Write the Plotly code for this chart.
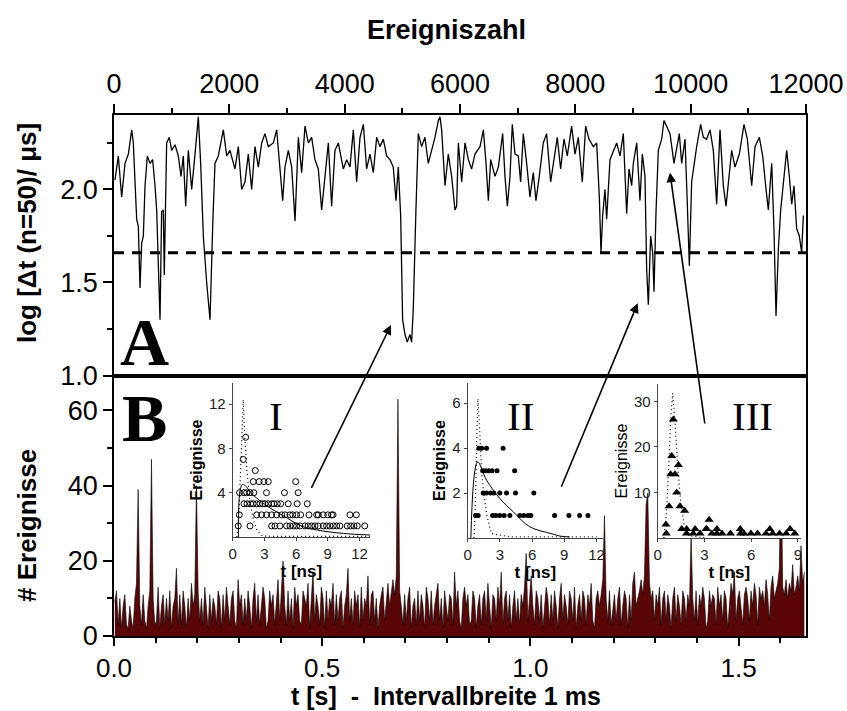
import numpy as np
import plotly.graph_objects as go

# ---------------- data ----------------
# Panel A: sliding log(dt) vs event number
event_no = [17, 75, 133, 191, 249, 307, 335, 393, 422, 451, 480, 509, 538, 578, 624, 670, 711, 740, 798, 826,
            855, 872, 913, 959, 1000, 1058, 1115, 1162, 1202, 1243, 1289, 1347, 1405, 1462, 1503, 1549, 1607, 1665, 1711, 1751,
            1809, 1896, 1954, 2011, 2098, 2156, 2214, 2271, 2329, 2387, 2445, 2503, 2561, 2618, 2676, 2763, 2821, 2879, 2925, 2965,
            3023, 3081, 3139, 3197, 3254, 3312, 3370, 3428, 3485, 3543, 3601, 3659, 3717, 3774, 3832, 3890, 3977, 4035, 4092, 4150,
            4208, 4266, 4324, 4381, 4439, 4497, 4555, 4612, 4670, 4728, 4786, 4843, 4890, 4930, 4971, 5005, 5046, 5086, 5132, 5161,
            5190, 5236, 5277, 5335, 5392, 5450, 5508, 5566, 5624, 5653, 5682, 5740, 5797, 5855, 5913, 5942, 5971, 6029, 6087, 6145,
            6202, 6260, 6347, 6405, 6451, 6492, 6532, 6607, 6665, 6740, 6780, 6821, 6867, 6907, 6953, 7011, 7051, 7098, 7156, 7213,
            7271, 7317, 7375, 7444, 7502, 7572, 7629, 7687, 7745, 7803, 7861, 7936, 7994, 8052, 8121, 8179, 8237, 8312, 8370, 8416,
            8445, 8474, 8514, 8543, 8601, 8659, 8717, 8775, 8832, 8890, 8931, 8977, 9006, 9064, 9121, 9162, 9208, 9237, 9266, 9306,
            9341, 9364, 9398, 9439, 9497, 9537, 9584, 9642, 9711, 9757, 9803, 9844, 9902, 9942, 9977, 10017, 10104, 10173, 10220, 10277,
            10335, 10393, 10451, 10509, 10566, 10613, 10653, 10711, 10769, 10844, 10925, 10983, 11058, 11116, 11191, 11249, 11307, 11347, 11405, 11446,
            11480, 11521, 11561, 11619, 11665, 11711, 11752, 11792, 11838, 11884, 11925, 11954]
log_dt = [2.05, 2.18, 1.96, 2.14, 2.19, 2.32, 2.25, 1.84, 1.80, 1.47, 1.71, 1.75, 2.02, 2.18, 2.14, 2.16, 2.02, 1.89, 1.30, 1.88,
          1.89, 1.54, 2.25, 2.28, 2.21, 2.24, 2.18, 2.07, 2.18, 1.91, 2.21, 2.00, 2.19, 2.39, 2.14, 1.75, 1.50, 1.30, 1.80, 2.14,
          2.18, 2.32, 2.18, 2.21, 2.11, 2.23, 2.00, 2.04, 2.19, 2.00, 2.23, 2.12, 2.25, 2.30, 2.23, 2.25, 2.32, 2.12, 1.94, 2.12,
          2.21, 2.12, 1.83, 2.28, 2.09, 2.34, 2.25, 2.28, 2.16, 2.11, 1.89, 2.07, 2.25, 1.91, 2.21, 2.25, 2.11, 2.16, 2.12, 2.32,
          2.04, 2.28, 2.35, 2.11, 2.19, 2.09, 2.28, 2.23, 2.27, 2.18, 2.16, 2.12, 1.94, 2.12, 1.86, 1.30, 1.22, 1.18, 1.22, 1.18,
          1.36, 1.89, 2.30, 2.23, 2.28, 2.14, 2.21, 2.28, 2.37, 2.39, 2.32, 2.02, 2.19, 2.07, 1.89, 1.91, 2.25, 2.04, 2.25, 2.16,
          2.11, 2.19, 2.23, 2.32, 2.14, 1.94, 2.16, 2.07, 2.12, 2.30, 2.07, 1.91, 2.07, 2.35, 2.19, 2.18, 2.04, 2.30, 2.14, 1.96,
          2.09, 1.94, 2.07, 2.25, 2.30, 2.04, 2.16, 2.28, 2.11, 2.27, 2.18, 2.34, 2.19, 2.28, 2.04, 2.34, 2.27, 2.23, 2.25, 1.96,
          1.66, 1.86, 2.00, 1.84, 2.16, 2.21, 2.25, 2.18, 2.30, 1.87, 2.11, 2.02, 2.14, 2.25, 1.94, 2.19, 2.07, 1.57, 1.38, 1.75,
          1.66, 1.45, 1.87, 2.21, 2.27, 2.37, 2.34, 2.30, 2.14, 2.23, 2.30, 2.14, 2.27, 1.92, 1.59, 2.04, 2.23, 2.35, 2.28, 2.27,
          2.32, 2.21, 1.92, 2.32, 2.02, 1.91, 2.02, 2.21, 2.12, 2.19, 2.35, 2.27, 2.02, 2.23, 2.28, 2.18, 2.00, 1.89, 2.14, 1.77,
          1.32, 1.68, 1.89, 2.07, 2.21, 2.07, 1.92, 2.02, 1.79, 1.75, 1.66, 1.86]
threshold = 1.66

# Panel B: counts per time bin (read at 4 ms resolution)
bin_width_s = 0.004
counts = [
    9, 12, 3, 10, 2, 8, 11, 3, 2, 8, 4, 2, 10, 14, 39, 8, 3, 11, 4, 2,
    8, 12, 47, 10, 3, 4, 13, 2, 8, 11, 3, 10, 4, 12, 2, 8, 10, 18, 3, 11,
    3, 12, 8, 2, 10, 4, 14, 8, 11, 40, 12, 4, 10, 3, 13, 8, 2, 11, 4, 10,
    8, 3, 12, 10, 2, 11, 4, 13, 8, 3, 10, 12, 4, 2, 15, 8, 11, 3, 10, 4,
    12, 8, 2, 10, 14, 4, 11, 3, 8, 13, 10, 2, 4, 12, 8, 11, 3, 10, 15, 4,
    11, 20, 8, 3, 12, 4, 10, 2, 13, 8, 11, 4, 3, 12, 10, 8, 14, 2, 10, 17,
    4, 11, 8, 3, 13, 10, 2, 12, 4, 10, 8, 14, 3, 11, 4, 10, 12, 2, 8, 11,
    18, 4, 10, 3, 12, 8, 11, 2, 13, 4, 10, 8, 16, 3, 11, 12, 4, 10, 2, 8,
    11, 13, 4, 10, 14, 8, 12, 15, 11, 16, 63, 12, 8, 3, 11, 4, 10, 13, 2, 8,
    10, 3, 12, 4, 11, 8, 2, 13, 10, 4, 12, 3, 8, 11, 14, 4, 10, 2, 12, 8,
    4, 11, 10, 3, 17, 8, 12, 4, 2, 10, 13, 8, 11, 3, 4, 12, 10, 2, 8, 11,
    3, 10, 12, 4, 14, 8, 2, 11, 10, 4, 13, 8, 17, 3, 10, 12, 4, 11, 2, 8,
    12, 4, 10, 3, 11, 8, 13, 22, 4, 10, 16, 8, 3, 12, 10, 4, 11, 2, 8, 13,
    10, 3, 11, 4, 12, 8, 2, 10, 14, 4, 11, 8, 3, 12, 10, 4, 13, 2, 8, 11,
    4, 12, 10, 3, 11, 8, 14, 4, 2, 10, 12, 8, 11, 15, 32, 10, 4, 12, 3, 8,
    11, 4, 10, 13, 3, 8, 12, 10, 2, 11, 4, 14, 17, 8, 10, 12, 15, 11, 16, 35,
    38, 14, 10, 12, 4, 11, 8, 13, 3, 10, 12, 4, 11, 8, 2, 10, 13, 4, 11, 8,
    3, 12, 10, 4, 11, 8, 27, 10, 4, 12, 3, 11, 8, 13, 10, 2, 4, 12, 8, 11,
    10, 3, 13, 8, 11, 4, 12, 10, 2, 8, 14, 11, 17, 4, 10, 12, 8, 3, 11, 13,
    10, 4, 12, 8, 14, 11, 3, 13, 10, 12, 8, 15, 11, 4, 13, 16, 10, 12, 14, 18,
    49, 13, 11, 15, 10, 14, 12, 19, 11, 13, 16, 12, 24, 14, 17]
t_s = [bin_width_s * (i + 0.5) for i in range(len(counts))]

# Inset I (open circles)
I_t = [0.53, 1.64, 3.69, 4.0, 4.47, 5.1, 5.42, 5.74, 6.05, 6.37, 6.84, 7.15, 7.47, 7.79, 8.1, 8.57, 8.89, 9.2, 9.52, 9.84, 10.15, 10.84, 11.16, 11.48, 11.79, 12.5,
       0.63, 2.27, 2.74, 3.2, 3.69, 4.16, 4.64, 4.95, 5.42, 5.68, 6.05, 6.43, 7.22, 7.95, 8.1, 8.57, 9.0, 9.36, 9.5, 11.1, 11.7,
       1.07, 1.36, 1.69, 1.94, 2.27, 2.58, 2.84, 3.06, 3.37, 3.69, 3.91, 4.22, 4.54, 5.26, 6.11, 7.06,
       0.65, 1.07, 1.32, 1.64, 2.0, 3.2, 4.9, 6.2,
       1.95, 2.5, 2.96, 3.37, 5.96,
       2.14, 1.0, 1.23]
I_n = [1] * 26 + [2] * 21 + [3] * 16 + [4] * 8 + [5] * 5 + [6, 7, 9]
I_fit_t = [0.55, 0.94, 1.95, 3.37, 4.79, 6.66, 8.5, 10.5, 13.0]
I_fit_n = [0.0, 4.75, 3.78, 2.73, 1.92, 0.93, 0.55, 0.32, 0.18]
I_irf_t = [0.4, 0.6, 0.75, 0.9, 1.0, 1.15, 1.35, 1.6, 1.9, 2.3, 2.8, 4.0, 7.0, 13.0]
I_irf_n = [0.0, 2.0, 6.0, 11.0, 12.4, 9.0, 6.0, 3.5, 1.8, 0.6, 0.1, 0.05, 0.05, 0.05]

# Inset II (filled circles)
II_t = [1.05, 1.3, 1.76, 3.3,
        1.4, 1.66, 1.97, 2.28, 2.74, 4.38,
        1.45, 1.76, 2.14, 2.44, 3.0, 3.62, 4.46, 6.16,
        0.74, 0.98, 2.32, 2.63, 3.0, 3.4, 3.93, 4.86, 5.23, 5.63, 5.88, 8.1, 9.43, 10.43, 11.2]
II_n = [4] * 4 + [3] * 6 + [2] * 8 + [1] * 15
II_fit_t = [0.3, 0.93, 1.76, 3.0, 4.24, 5.79, 7.77, 8.7, 9.5]
II_fit_n = [0.0, 3.39, 2.58, 1.76, 1.17, 0.5, 0.2, 0.08, 0.05]
II_irf_t = [0.6, 0.75, 0.85, 0.96, 1.1, 1.3, 1.5, 1.8, 2.2, 4.0, 8.0, 12.0]
II_irf_n = [0.0, 2.0, 4.5, 6.2, 5.0, 3.0, 2.0, 1.0, 0.2, 0.05, 0.05, 0.05]

# Inset III (filled triangles)
III_t = [0.53, 0.73, 0.83, 1.11, 0.9, 1.0, 1.33, 1.22, 1.43, 1.73, 3.3,
         0.55, 1.54, 1.85, 2.28, 2.72, 3.15, 3.48, 3.8, 4.13, 4.67, 5.32, 5.54, 5.98, 6.41, 6.95, 7.38, 7.82, 8.25, 8.8,
         1.86, 2.4, 3.1, 3.8, 5.3, 7.2, 8.5]
III_n = [3, 7, 14, 14, 18, 26, 16, 10, 7, 6, 4,
         1, 2, 1, 1, 1, 2, 1, 1, 1, 1, 1, 1, 1, 1, 1, 1, 1, 1, 1,
         2, 2, 2, 2, 2, 2, 2]
III_irf_t = [0.4, 0.55, 0.7, 0.85, 0.96, 1.1, 1.3, 1.5, 1.7, 2.0, 3.0]
III_irf_n = [0.0, 5.0, 15.0, 27.0, 31.8, 26.0, 15.0, 7.0, 3.0, 0.5, 0.1]

# ---------------- figure ----------------
SANS = "Liberation Sans, Arial, sans-serif"
SERIF = "Liberation Serif, Times New Roman, serif"
DOT = "1px,3px"
fig = go.Figure()

fig.add_trace(go.Scatter(x=t_s, y=counts, mode="lines", fill="tozeroy",
                         line=dict(color="black", width=0.6), fillcolor="#5a0606",
                         xaxis="x", yaxis="y", hoverinfo="skip"))
fig.add_trace(go.Scatter(x=event_no, y=log_dt, mode="lines",
                         line=dict(color="black", width=1.3), xaxis="x2", yaxis="y2"))
fig.add_trace(go.Scatter(x=[0, 12000], y=[threshold, threshold], mode="lines",
                         line=dict(color="black", width=3, dash="10px,8px"), xaxis="x2", yaxis="y2"))

# insets
fig.add_trace(go.Scatter(x=I_irf_t, y=I_irf_n, mode="lines", line=dict(color="black", width=1.2, dash=DOT),
                         xaxis="x3", yaxis="y3"))
fig.add_trace(go.Scatter(x=I_fit_t, y=I_fit_n, mode="lines", line=dict(color="black", width=1, shape="spline"),
                         xaxis="x3", yaxis="y3"))
fig.add_trace(go.Scatter(x=I_t, y=I_n, mode="markers",
                         marker=dict(symbol="circle-open", size=6, color="black", line=dict(width=1)),
                         xaxis="x3", yaxis="y3"))

fig.add_trace(go.Scatter(x=II_irf_t, y=II_irf_n, mode="lines", line=dict(color="black", width=1.2, dash=DOT),
                         xaxis="x4", yaxis="y4"))
fig.add_trace(go.Scatter(x=II_fit_t, y=II_fit_n, mode="lines", line=dict(color="black", width=1, shape="spline"),
                         xaxis="x4", yaxis="y4"))
fig.add_trace(go.Scatter(x=II_t, y=II_n, mode="markers",
                         marker=dict(symbol="circle", size=5, color="black"),
                         xaxis="x4", yaxis="y4"))

fig.add_trace(go.Scatter(x=III_irf_t, y=III_irf_n, mode="lines", line=dict(color="black", width=1.2, dash=DOT),
                         xaxis="x5", yaxis="y5"))
fig.add_trace(go.Scatter(x=III_t, y=III_n, mode="markers",
                         marker=dict(symbol="triangle-up", size=8, color="black"),
                         xaxis="x5", yaxis="y5"))

main_tick = dict(family=SANS, size=27, color="black")
common = dict(showline=True, linecolor="black", linewidth=1.5, mirror=True, ticks="outside",
              ticklen=9, tickwidth=1.5, tickcolor="black", showgrid=False, zeroline=False,
              tickfont=main_tick, automargin=False)
bottom_common = dict(common)
bottom_common.update(ticklen=8, tickfont=dict(family=SANS, size=26, color="black"))

def inset_axis(rng, tv, dom, anchor):
    return dict(domain=dom, anchor=anchor, range=rng, tickvals=tv, showline=True, linecolor="#444",
                linewidth=1, ticks="outside", ticklen=3, tickwidth=1, tickcolor="#444", automargin=False,
                showgrid=False, zeroline=False, tickfont=dict(family=SANS, size=15, color="#222"))

fig.update_layout(
    width=847, height=711, margin=dict(l=114, r=41, t=115, b=75, autoexpand=False),
    paper_bgcolor="white", plot_bgcolor="white", showlegend=False,
    xaxis=dict(domain=[0, 1], anchor="y", range=[0, 1.662], tickvals=[0, 0.5, 1.0, 1.5],
               ticktext=["0.0", "0.5", "1.0", "1.5"],
               minor=dict(tickvals=[0.1, 0.2, 0.3, 0.4, 0.6, 0.7, 0.8, 0.9, 1.1, 1.2, 1.3, 1.4, 1.6],
                          ticks="outside", ticklen=5, tickwidth=1.5, tickcolor="black"), **bottom_common),
    yaxis=dict(domain=[0, 0.5], anchor="x", range=[0, 69.3], tickvals=[0, 20, 40, 60],
               ticktext=["0", "20", "40", "60"],
               minor=dict(tickvals=[10, 30, 50], ticks="outside", ticklen=5, tickwidth=1.5, tickcolor="black"),
               **common),
    xaxis2=dict(domain=[0, 1], anchor="y2", side="top", range=[0, 12000],
                tickvals=[0, 2000, 4000, 6000, 8000, 10000, 12000],
                ticktext=["0", "2000", "4000", "6000", "8000", "10000", "12000"],
                minor=dict(tickvals=[1000, 3000, 5000, 7000, 9000, 11000], ticks="outside", ticklen=5,
                           tickwidth=1.5, tickcolor="black"), **common),
    yaxis2=dict(domain=[0.5, 1], anchor="x2", range=[1.0, 2.4], tickvals=[1.0, 1.5, 2.0],
                ticktext=["1.0", "1.5", "2.0"],
                minor=dict(tickvals=[1.25, 1.75, 2.25], ticks="outside", ticklen=5, tickwidth=1.5, tickcolor="black"),
                **common),
    xaxis3=inset_axis([0, 13], [0, 3, 6, 9, 12], [0.1715, 0.370], "y3"),
    yaxis3=inset_axis([0, 13.9], [4, 8, 12], [0.190, 0.4856], "x3"),
    xaxis4=inset_axis([0, 12.6], [0, 3, 6, 9, 12], [0.511, 0.7066], "y4"),
    yaxis4=inset_axis([0, 6.9], [2, 4, 6], [0.188, 0.4856], "x4"),
    xaxis5=inset_axis([0, 9.2], [0, 3, 6, 9], [0.7857, 0.9928], "y5"),
    yaxis5=inset_axis([0, 33.8], [10, 20, 30], [0.188, 0.4837], "x5"),
)
for ax in ["xaxis3", "xaxis4", "xaxis5"]:
    fig.layout[ax].title = dict(text="<b>t [ns]</b>", font=dict(family=SANS, size=17, color="black"), standoff=2)
fig.layout.yaxis3.title = dict(text="<b>Ereignisse</b>", font=dict(family=SANS, size=16, color="black"), standoff=2)
fig.layout.yaxis4.title = dict(text="<b>Ereignisse</b>", font=dict(family=SANS, size=16, color="black"), standoff=2)
fig.layout.yaxis5.title = dict(text="Ereignisse", font=dict(family=SANS, size=16, color="black"), standoff=2)

W, H = 692.0, 521.0
def px(x):
    return (x - 114) / W
def py(y):
    return (636 - y) / H

def label(text, x, y, size, family=SANS, angle=0):
    return dict(text=text, x=px(x), y=py(y), xref="paper", yref="paper", xanchor="center", yanchor="middle",
                showarrow=False, textangle=angle, font=dict(family=family, size=size, color="black"))

ann = [
    label("<b>Ereigniszahl</b>", 446, 30, 27),
    label("<b>t [s]  -  Intervallbreite 1 ms</b>", 446, 696, 25),
    label("<b>log [Δt (n=50)/ μs]</b>", 27, 233, 26, angle=-90),
    label("<b># Ereignisse</b>", 27, 526, 26, angle=-90),
    label("<b>A</b>", 144, 342, 68, SERIF),
    label("<b>B</b>", 144, 418, 68, SERIF),
]
for txt, cx in [("I", 276), ("II", 520), ("III", 752)]:
    ann.append(label(txt, cx, 416, 41, SERIF))
for (tx, ty), (sx, sy) in [((391, 325), (310.7, 489.3)), ((637.7, 303.3), (560.7, 488.3)), ((670, 172.7), (705, 425))]:
    ann.append(dict(text="", x=px(tx), y=py(ty), xref="paper", yref="paper", showarrow=True,
                    ax=sx - tx, ay=sy - ty, arrowhead=2, arrowsize=1.2, arrowwidth=1.6, arrowcolor="black"))
fig.update_layout(annotations=ann)

fig.write_html("out.html")
